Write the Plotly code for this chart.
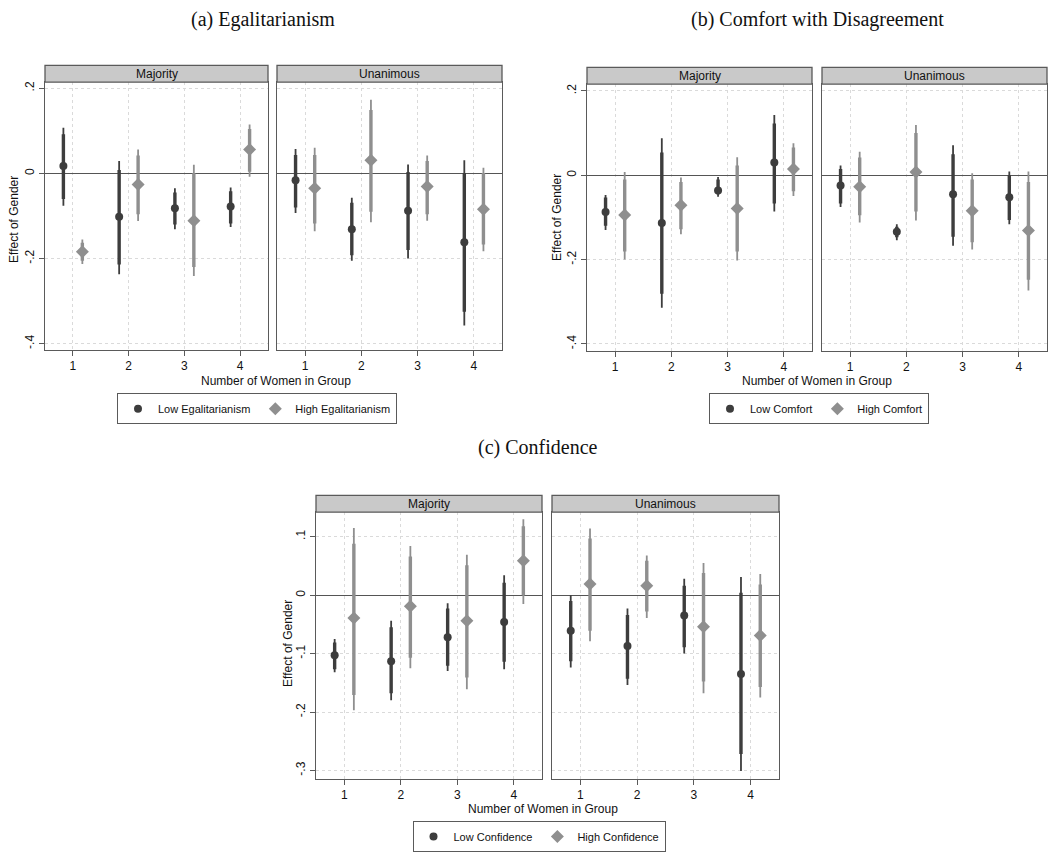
import plotly.graph_objects as go

W, H = 1051, 852

# ---------------- DATA ----------------
women = [1, 2, 3, 4]
ytick_ab = [-0.4, -0.2, 0, 0.2]
ytext_ab = ["-.4", "-.2", "0", ".2"]
ytick_c = [-0.3, -0.2, -0.1, 0, 0.1]
ytext_c = ["-.3", "-.2", "-.1", "0", ".1"]

# each entry: (estimate, wide CI low, wide CI high, narrow CI low, narrow CI high)
a_maj_low = [(0.017, -0.076, 0.107, -0.060, 0.092), (-0.102, -0.237, 0.029, -0.214, 0.008),
             (-0.082, -0.131, -0.035, -0.120, -0.045), (-0.078, -0.126, -0.033, -0.118, -0.042)]
a_maj_high = [(-0.184, -0.213, -0.155, -0.205, -0.163), (-0.026, -0.112, 0.056, -0.096, 0.042),
              (-0.111, -0.241, 0.020, -0.220, 0.000), (0.056, -0.008, 0.115, 0.004, 0.104)]
a_una_low = [(-0.016, -0.093, 0.057, -0.080, 0.043), (-0.131, -0.205, -0.057, -0.192, -0.069),
             (-0.088, -0.200, 0.021, -0.180, 0.003), (-0.162, -0.357, 0.031, -0.325, 0.001)]
a_una_high = [(-0.035, -0.136, 0.060, -0.118, 0.043), (0.031, -0.115, 0.173, -0.090, 0.149),
              (-0.031, -0.111, 0.042, -0.096, 0.029), (-0.084, -0.183, 0.013, -0.167, 0.001)]

b_maj_low = [(-0.087, -0.130, -0.047, -0.120, -0.053), (-0.113, -0.314, 0.088, -0.281, 0.054),
             (-0.036, -0.051, -0.004, -0.045, -0.010), (0.030, -0.086, 0.143, -0.067, 0.123)]
b_maj_high = [(-0.094, -0.200, 0.008, -0.181, -0.010), (-0.071, -0.140, -0.005, -0.128, -0.016),
              (-0.079, -0.202, 0.043, -0.181, 0.023), (0.015, -0.049, 0.076, -0.038, 0.066)]
b_una_low = [(-0.024, -0.075, 0.023, -0.067, 0.015), (-0.134, -0.154, -0.116, -0.147, -0.122),
             (-0.045, -0.167, 0.071, -0.146, 0.050), (-0.052, -0.116, 0.009, -0.106, 0.000)]
b_una_high = [(-0.027, -0.112, 0.056, -0.095, 0.042), (0.008, -0.107, 0.119, -0.086, 0.100),
              (-0.084, -0.176, 0.005, -0.159, -0.010), (-0.131, -0.273, 0.009, -0.248, -0.016)]

c_maj_low = [(-0.103, -0.132, -0.075, -0.127, -0.081), (-0.113, -0.180, -0.044, -0.168, -0.055),
             (-0.072, -0.130, -0.014, -0.121, -0.023), (-0.046, -0.127, 0.034, -0.114, 0.021)]
c_maj_high = [(-0.039, -0.197, 0.115, -0.171, 0.088), (-0.019, -0.125, 0.084, -0.107, 0.066),
              (-0.044, -0.161, 0.069, -0.141, 0.051), (0.059, -0.015, 0.130, 0.000, 0.118)]
c_una_low = [(-0.061, -0.124, 0.000, -0.113, -0.010), (-0.087, -0.154, -0.023, -0.143, -0.034),
             (-0.035, -0.100, 0.028, -0.089, 0.016), (-0.135, -0.301, 0.031, -0.272, 0.004)]
c_una_high = [(0.019, -0.079, 0.114, -0.061, 0.097), (0.016, -0.039, 0.068, -0.028, 0.059),
              (-0.054, -0.168, 0.055, -0.148, 0.038), (-0.069, -0.175, 0.036, -0.157, 0.018)]

titles = ["(a) Egalitarianism", "(b) Comfort with Disagreement", "(c) Confidence"]
low_names = ["Low Egalitarianism", "Low Comfort", "Low Confidence"]
high_names = ["High Egalitarianism", "High Comfort", "High Confidence"]
rules = ["Majority", "Unanimous"]

# ---------------- STYLE / LAYOUT ----------------
DARK = "#3d3d3d"
LIGHT = "#8f8f8f"
FRAME = "#5a5a5a"
GRID = "#dadada"
OFFSET = 0.17
FONT = "Liberation Sans, Arial, sans-serif"
SERIF = "Liberation Serif, Times New Roman, serif"

def fx(p):
    return p / W

def fy(p):
    return 1 - p / H

# panel pixel boxes: (left, right, top, bottom)
boxes = {
    ("a", 0): (45, 268, 83, 353), ("a", 1): (277, 502, 83, 353),
    ("b", 0): (587, 812, 85, 354), ("b", 1): (822, 1047, 85, 354),
    ("c", 0): (316, 542, 517, 786), ("c", 1): (552, 779, 517, 786),
}
yranges = {"a": [-0.414, 0.214], "b": [-0.416, 0.216], "c": [-0.314, 0.142]}
yticks = {"a": (ytick_ab, ytext_ab), "b": (ytick_ab, ytext_ab), "c": (ytick_c, ytext_c)}
data = {
    ("a", 0): (a_maj_low, a_maj_high), ("a", 1): (a_una_low, a_una_high),
    ("b", 0): (b_maj_low, b_maj_high), ("b", 1): (b_una_low, b_una_high),
    ("c", 0): (c_maj_low, c_maj_high), ("c", 1): (c_una_low, c_una_high),
}
legend_pos = {"a": (257, 397), "b": (819, 397), "c": (539, 829)}
legend_key = {"a": "legend", "b": "legend2", "c": "legend3"}
title_pos = {"a": (263, 20), "b": (817, 20), "c": (538, 452)}
ytitle_pos = {"a": (14, 222), "b": (557, 220), "c": (288, 650)}
xtitle_pos = {"a": (276, 385), "b": (817, 385), "c": (543, 817)}

fig = go.Figure()
layout = {}
shapes = []
annotations = []

def ci_segments(xs, rows, lo_i, hi_i):
    X, Y = [], []
    for x, r in zip(xs, rows):
        X += [x, x, None]
        Y += [r[lo_i], r[hi_i], None]
    return X, Y

idx = 0
for pi, p in enumerate(["a", "b", "c"]):
    for ri in range(2):
        idx += 1
        sfx = "" if idx == 1 else str(idx)
        xa, ya = "x" + sfx, "y" + sfx
        l, r, t, b = boxes[(p, ri)]
        tv, tt = yticks[p]
        layout["xaxis" + sfx] = dict(
            domain=[fx(l), fx(r)], anchor=ya, range=[0.5, 4.5],
            tickvals=women, ticktext=[str(w) for w in women],
            ticks="outside", ticklen=5, tickcolor=FRAME,
            showline=True, mirror=True, linecolor=FRAME, linewidth=1.3,
            showgrid=True, gridcolor=GRID, griddash="dot", gridwidth=1,
            zeroline=False, tickfont=dict(size=12, color="#111", family=FONT),
            fixedrange=True,
        )
        layout["yaxis" + sfx] = dict(
            domain=[fy(b), fy(t)], anchor=xa, range=yranges[p],
            tickvals=tv, ticktext=tt, tickangle=-90,
            ticks="outside" if ri == 0 else "", ticklen=5, tickcolor=FRAME,
            showticklabels=(ri == 0),
            showline=True, mirror=True, linecolor=FRAME, linewidth=1.3,
            showgrid=True, gridcolor=GRID, griddash="dot", gridwidth=1,
            zeroline=True, zerolinecolor="#555555", zerolinewidth=1.3,
            tickfont=dict(size=12, color="#111", family=FONT),
            fixedrange=True,
        )
        low, high = data[(p, ri)]
        for rows, off, col, sym, size, name in [
            (low, -OFFSET, DARK, "circle", 8, low_names[pi]),
            (high, OFFSET, LIGHT, "diamond", 10, high_names[pi]),
        ]:
            xs = [w + off for w in women]
            X, Y = ci_segments(xs, rows, 1, 2)
            fig.add_trace(go.Scatter(x=X, y=Y, mode="lines", line=dict(color=col, width=1.8),
                                     xaxis=xa, yaxis=ya, showlegend=False, hoverinfo="skip"))
            X, Y = ci_segments(xs, rows, 3, 4)
            fig.add_trace(go.Scatter(x=X, y=Y, mode="lines", line=dict(color=col, width=3.4),
                                     xaxis=xa, yaxis=ya, showlegend=False, hoverinfo="skip"))
            fig.add_trace(go.Scatter(
                x=xs, y=[row[0] for row in rows], mode="markers",
                marker=dict(color=col, symbol=sym, size=size, line=dict(width=0)),
                xaxis=xa, yaxis=ya, name=name, showlegend=(ri == 0),
                legend=legend_key[p],
            ))
        # strip header
        shapes.append(dict(type="rect", xref="paper", yref="paper",
                           x0=fx(l), x1=fx(r), y0=fy(t), y1=fy(t - 17),
                           fillcolor="#c9c9c9", line=dict(color=FRAME, width=1.3), layer="above"))
        annotations.append(dict(text=rules[ri], xref="paper", yref="paper",
                                x=fx((l + r) / 2), y=fy(t - 8.5), showarrow=False,
                                xanchor="center", yanchor="middle",
                                font=dict(size=12, color="#111", family=FONT)))
    # titles
    tx, ty = title_pos[p]
    annotations.append(dict(text=titles[pi], xref="paper", yref="paper", x=fx(tx), y=fy(ty),
                            showarrow=False, xanchor="center", yanchor="middle",
                            font=dict(size=20, color="#111", family=SERIF)))
    yx, yy = ytitle_pos[p]
    annotations.append(dict(text="Effect of Gender", xref="paper", yref="paper", x=fx(yx), y=fy(yy),
                            showarrow=False, xanchor="center", yanchor="middle", textangle=-90,
                            font=dict(size=12, color="#111", family=FONT)))
    xx, xy = xtitle_pos[p]
    annotations.append(dict(text="Number of Women in Group", xref="paper", yref="paper",
                            x=fx(xx), y=fy(xy), showarrow=False, xanchor="center", yanchor="middle",
                            font=dict(size=12, color="#111", family=FONT)))
    lx, ly = legend_pos[p]
    layout[legend_key[p]] = dict(
        x=fx(lx), y=fy(ly), xanchor="center", yanchor="top", orientation="h",
        bgcolor="white", bordercolor=FRAME, borderwidth=1,
        font=dict(size=11, color="#111", family=FONT),
        itemwidth=30, tracegroupgap=0,
    )

fig.update_layout(
    width=W, height=H, margin=dict(l=0, r=0, t=0, b=0, pad=0),
    paper_bgcolor="white", plot_bgcolor="white",
    shapes=shapes, annotations=annotations, **layout,
)

fig.write_html("out.html")
